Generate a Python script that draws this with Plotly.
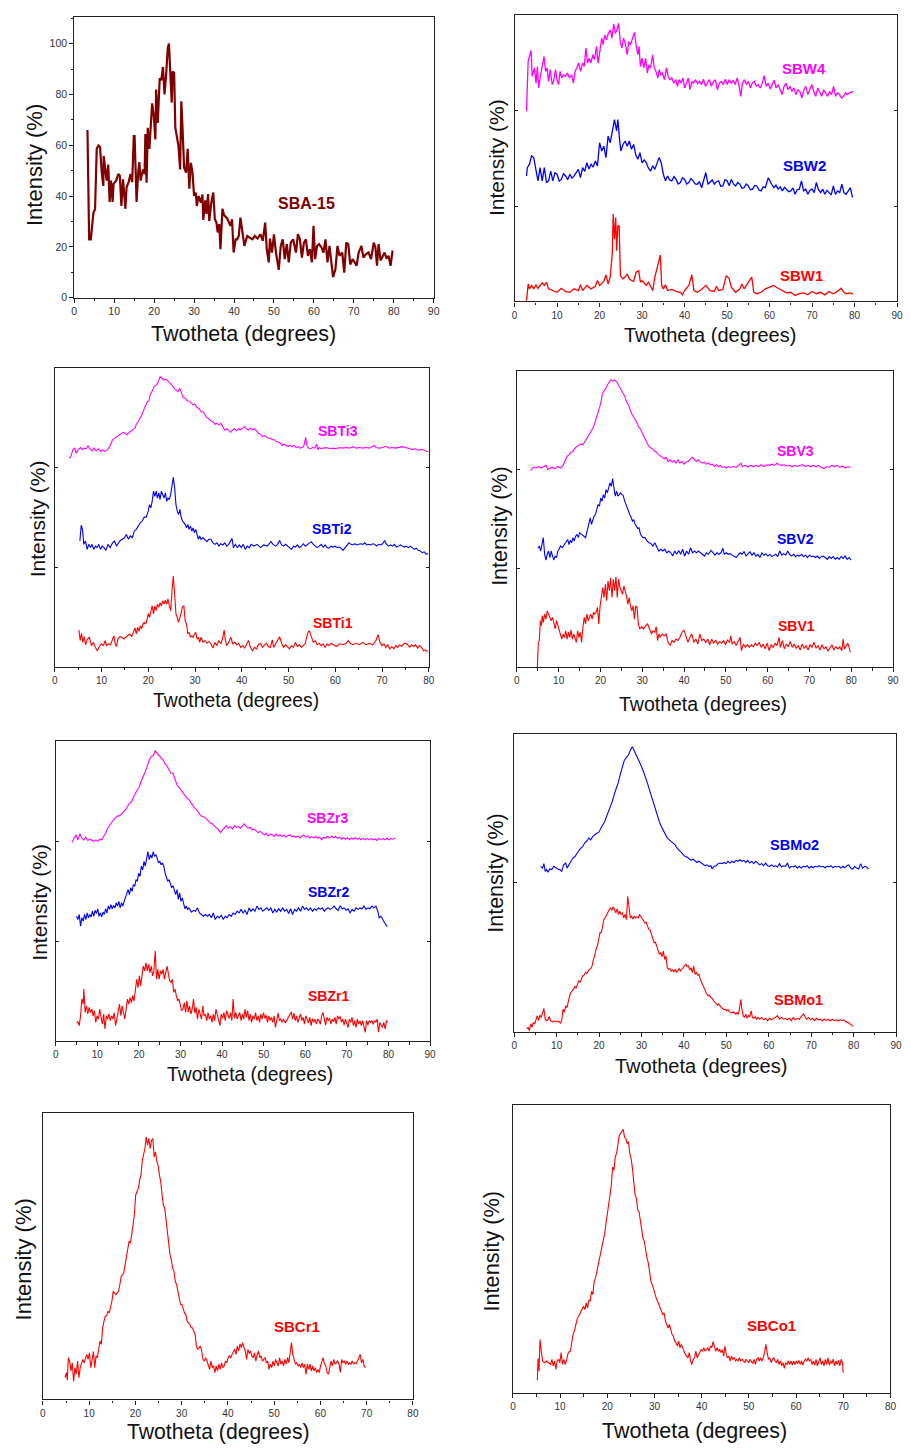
import plotly.graph_objects as go

# ---------------- data (2-theta in degrees, intensity) ----------------
SBA15 = [(3.3,66.0),(3.56,36),(3.72,23.0),(4.14,23.0),(4.8,33.5),(5.2,34.8),(5.62,58.6),(6.04,59.9),(6.45,59.3),(6.87,49.2),(7.28,44.0),(7.36,55.8),(7.86,50.5),(8.1,46.1),(8.5,52.4),(8.85,37.7),(9.18,46.1),(9.6,37.7),(9.84,44.9),(10.5,46.1),(11.0,48.7),(11.4,48.0),(11.8,36.1),(12.2,46.6),(12.8,35.0),(13.1,43.5),(13.6,45.5),(14.1,48.7),(14.5,45.5),(14.9,63.6),(15.1,63.6),(15.6,37.7),(16.0,49.5),(16.3,53.4),(16.6,46.1),(17.2,50.5),(17.6,48.7),(17.8,64.4),(18.1,45.3),(18.4,66.9),(18.8,58.6),(19.1,66.5),(19.5,76.5),(19.9,71.7),(20.3,62.3),(20.5,81.9),(20.9,68.8),(21.4,86.4),(21.8,85.6),(22.2,90.8),(22.6,80.0),(23.0,87.8),(23.4,98.2),(23.7,100),(24.1,87.8),(24.4,76.8),(24.6,89.0),(25.0,88.5),(25.3,66.9),(25.7,62.3),(26.1,59.6),(26.5,50.5),(26.8,77.3),(27.0,70.7),(27.5,51.2),(28.0,49.2),(28.4,58.6),(28.8,42.9),(29.2,53.1),(29.6,49.2),(30.0,40.1),(30.4,41.4),(30.7,36.1),(31.1,40.1),(31.4,38.1),(31.7,37.4),(32.1,40.6),(32.3,30.6),(32.8,38.3),(33.1,33.0),(33.5,40.8),(33.8,30.2),(34.3,37.4),(34.8,41.4),(35.2,30.9),(35.6,29.6),(35.9,25.7),(36.3,29.0),(36.6,19.1),(37.1,35.0),(37.5,32.5),(38.3,31.2),(39.1,28.3),(39.5,30.9),(39.9,17.8),(40.4,23.0),(40.8,23.0),(41.2,24.4),(41.6,31.5),(42.1,25.7),(42.6,20.4),(43.3,24.3),(43.9,23.7),(44.6,23.0),(45.2,24.3),(45.9,23.3),(46.6,25.0),(47.2,22.4),(47.8,29.6),(48.2,19.1),(48.7,13.9),(49.0,23.3),(49.5,17.8),(50.0,24.9),(50.5,17.8),(51.2,11.0),(51.7,20.4),(52.2,23.0),(52.7,15.2),(53.2,21.1),(53.7,13.9),(54.2,21.7),(54.8,23.0),(55.5,17.8),(56.0,25.0),(56.5,23.0),(57.0,15.8),(57.5,21.7),(58.0,23.0),(58.5,16.5),(59.0,19.1),(59.5,13.9),(59.9,28.3),(60.3,15.2),(60.8,20.4),(61.3,21.1),(61.9,19.8),(62.4,17.8),(62.9,23.0),(63.4,13.9),(63.9,20.4),(64.4,12.6),(64.8,8.1),(65.4,11.3),(65.9,20.4),(66.4,16.5),(67.1,17.8),(67.6,9.9),(68.1,21.7),(68.6,21.1),(69.1,13.1),(69.7,15.2),(70.2,13.9),(70.7,12.6),(71.2,17.8),(71.9,20.4),(72.4,15.8),(73.0,17.1),(73.7,17.8),(74.3,15.2),(75.0,21.7),(75.4,19.8),(75.8,12.6),(76.2,21.1),(76.7,14.7),(77.2,16.5),(77.7,17.8),(78.2,15.4),(78.7,16.5),(79.2,12.6),(79.7,18.6)]

SBW4 = [(2.8,66.4),(3.19,83.8),(3.89,87.6),(4.12,78.6),(4.66,81.5),(5.05,76.2),(5.36,82.0),(5.67,74.5),(6.06,78.6),(6.53,82.6),(6.92,85.5),(7.30,80.3),(7.61,81.5),(8.0,76.8),(8.39,80.9),(8.86,75.7),(9.17,76.8),(9.63,80.9),(9.95,77.4),(10.33,75.7),(10.72,80.3),(11.11,78.0),(11.5,79.1),(11.97,78.6),(12.43,79.7),(12.9,78.0),(13.44,79.1),(13.83,76.2),(14.22,80.3),(14.61,81.5),(15.07,83.2),(15.54,80.3),(16.0,83.2),(16.39,82.0),(16.78,88.4),(17.17,83.2),(17.56,84.9),(17.95,83.2),(18.41,86.1),(18.8,84.4),(19.27,89.0),(19.66,83.2),(20.05,86.7),(20.51,91.9),(20.82,89.6),(21.21,93.0),(21.6,91.3),(22.07,93.6),(22.53,94.8),(22.92,91.9),(23.31,96.9),(23.7,93.6),(24.09,94.8),(24.48,97.1),(24.86,90.7),(25.25,88.4),(25.64,91.9),(26.11,89.6),(26.5,86.1),(26.88,90.7),(27.27,89.6),(27.82,92.5),(28.2,93.9),(28.59,89.6),(28.98,86.1),(29.29,89.0),(29.6,82.0),(29.99,84.9),(30.38,81.5),(30.85,84.9),(31.24,79.7),(31.62,82.6),(32.01,81.5),(32.48,86.1),(32.87,81.5),(33.26,80.3),(33.72,78.0),(34.03,80.9),(34.42,79.1),(34.81,79.7),(35.28,77.4),(35.74,81.5),(36.13,78.6),(36.52,77.4),(36.99,78.0),(37.45,76.2),(37.92,77.4),(38.31,75.1),(38.69,77.4),(39.16,76.2),(39.63,78.0),(40.02,74.5),(40.48,76.2),(40.87,78.0),(41.26,73.9),(41.73,76.8),(42.11,76.2),(42.58,77.4),(43.05,76.0),(43.51,76.8),(43.98,75.7),(44.44,77.6),(44.91,75.1),(45.38,76.2),(45.84,77.4),(46.31,75.1),(46.78,76.8),(47.24,77.4),(47.71,73.9),(48.17,76.2),(48.64,76.8),(49.11,75.7),(49.57,77.6),(50.04,75.7),(50.5,77.4),(50.97,76.2),(51.44,77.2),(51.9,75.7),(52.37,78.0),(52.84,75.1),(53.22,71.6),(53.61,76.2),(54.08,77.4),(54.55,75.7),(55.01,76.8),(55.48,74.5),(55.94,76.2),(56.41,76.8),(56.88,75.1),(57.34,75.7),(57.81,74.5),(58.28,76.2),(58.74,78.8),(59.21,75.1),(59.67,76.2),(60.14,74.2),(60.61,75.7),(61.07,77.2),(61.54,74.5),(62.0,75.7),(62.47,73.9),(62.94,72.2),(63.4,75.1),(63.87,76.2),(64.34,73.9),(64.8,75.1),(65.27,73.3),(65.73,74.5),(66.2,72.2),(66.67,73.9),(67.13,73.3),(67.6,71.0),(68.07,73.9),(68.53,75.1),(69.0,72.2),(69.46,73.9),(69.93,75.7),(70.4,73.3),(70.86,71.6),(71.33,74.5),(71.8,72.8),(72.26,71.6),(72.73,73.9),(73.19,72.8),(73.66,71.6),(74.13,73.3),(74.59,72.2),(75.06,75.1),(75.52,71.6),(75.99,72.8),(76.46,72.2),(76.92,71.0),(77.39,71.6),(77.86,72.8),(78.32,72.2),(78.79,72.8),(79.25,73.0),(79.72,73.3)]

SBW2 = [(2.8,43.8),(3.0,46.7),(3.5,47.9),(4.0,50.8),(4.5,50.2),(5.0,45.5),(5.5,42.1),(6.0,46.7),(6.5,42.1),(7.0,46.7),(7.5,41.5),(8.0,42.1),(8.5,45.5),(9.0,42.1),(9.5,44.9),(10.0,44.4),(10.5,42.0),(11.0,42.6),(11.5,44.6),(12.0,43.8),(12.5,42.5),(13.0,44.4),(13.5,43.0),(14.0,43.8),(14.5,44.9),(15.0,46.1),(15.5,43.2),(16.0,46.7),(16.5,45.4),(17.0,48.4),(17.5,46.2),(18.0,47.9),(18.5,46.9),(19.0,49.0),(19.5,47.3),(20.0,55.4),(20.5,52.5),(21.0,54.2),(21.5,50.2),(22.0,57.7),(22.5,55.4),(23.0,58.9),(23.5,63.5),(24.0,59.5),(24.3,63.5),(24.7,56.5),(25.0,52.5),(25.5,54.8),(26.0,56.0),(26.5,54.2),(27.0,56.0),(27.5,53.1),(28.0,54.8),(28.5,51.3),(29.0,49.6),(29.5,51.9),(30.0,48.4),(30.5,49.4),(31.0,48.4),(31.5,46.5),(32.0,45.5),(32.5,47.4),(33.0,46.1),(34.0,50.2),(34.5,48.4),(35.0,44.4),(35.5,42.1),(36.0,43.8),(36.5,42.4),(37.0,42.1),(37.5,43.6),(38.0,42.6),(38.5,41.0),(39.0,41.5),(39.5,43.2),(40.0,42.6),(40.5,41.0),(41.0,41.5),(41.5,42.9),(42.0,42.1),(42.5,41.0),(43.0,40.9),(43.5,41.8),(44.0,39.7),(45.0,45.0),(45.5,40.9),(46.0,41.5),(46.5,42.4),(47.0,40.9),(47.5,41.8),(48.0,42.1),(48.5,40.2),(49.0,40.3),(49.5,42.5),(50.0,42.1),(50.5,40.4),(51.0,42.6),(51.5,41.0),(52.0,40.3),(52.5,41.5),(53.0,40.9),(53.5,39.5),(54.0,39.7),(54.5,41.0),(55.0,40.3),(55.5,39.0),(56.0,39.2),(56.5,40.5),(57.0,40.3),(57.5,38.9),(58.0,38.6),(58.5,40.0),(59.0,39.7),(59.7,43.2),(60.5,40.9),(61.0,39.7),(61.5,40.6),(62.0,39.2),(62.5,40.0),(63.0,38.6),(63.5,39.8),(64.0,39.2),(64.5,38.3),(65.0,38.6),(65.5,39.6),(66.0,37.4),(66.5,39.0),(67.0,39.2),(67.5,42.1),(68.0,38.6),(68.5,39.2),(69.0,37.4),(69.5,38.8),(70.0,39.2),(70.5,38.0),(71.0,41.5),(71.5,39.0),(72.0,38.0),(72.5,39.2),(73.0,37.4),(73.5,38.8),(74.0,38.0),(74.5,37.2),(75.0,40.3),(75.5,37.4),(76.0,38.6),(76.5,38.0),(77.0,40.9),(77.5,38.0),(78.0,37.4),(78.5,38.5),(79.0,39.7),(79.5,36.3)]

SBW1 = [(2.8,0.3),(3.2,6.1),(3.5,4.4),(4.0,5.6),(4.5,4.4),(5.0,5.8),(5.5,4.6),(6.0,5.8),(6.5,6.5),(7.0,5.6),(7.5,6.7),(8.0,4.4),(9.0,3.8),(10.0,3.2),(11.0,4.6),(12.0,3.5),(13.0,3.2),(14.0,4.4),(15.0,3.8),(15.5,5.8),(16.0,3.8),(17.0,5.6),(18.0,4.4),(19.0,5.3),(19.5,7.3),(20.0,5.6),(21.0,7.0),(21.5,9.3),(22.0,6.1),(22.5,8.5),(23.0,17.1),(23.2,30.5),(23.5,21.8),(23.8,29.3),(24.0,17.7),(24.3,26.4),(24.6,26.4),(24.9,9.0),(25.5,7.9),(26.0,8.5),(26.5,9.6),(27.0,7.9),(27.5,7.3),(28.0,7.0),(28.6,10.2),(29.2,10.8),(29.6,6.7),(30.0,7.3),(31.0,5.6),(31.5,6.7),(32.0,5.3),(32.5,3.8),(33.0,8.5),(33.5,11.4),(34.0,13.7),(34.3,16.2),(34.6,5.6),(35.0,4.4),(35.5,5.8),(36.0,3.8),(37.0,4.2),(38.0,3.5),(39.0,3.2),(39.5,2.3),(40.0,3.8),(41.0,5.6),(41.7,9.3),(42.2,3.8),(43.0,3.2),(44.0,4.2),(45.0,5.6),(46.0,3.8),(47.0,3.5),(47.5,5.3),(48.0,3.8),(49.0,4.2),(49.8,9.0),(50.5,7.9),(51.0,5.0),(52.0,3.2),(53.0,4.4),(53.5,6.1),(54.0,4.4),(55.0,6.7),(55.8,8.5),(56.3,3.2),(57.0,2.7),(58.0,3.2),(59.0,4.4),(60.0,5.0),(61.0,5.6),(62.0,4.6),(63.0,3.8),(64.0,3.0),(65.0,3.2),(66.0,2.1),(67.0,2.7),(68.0,3.0),(69.0,2.3),(70.0,3.5),(71.0,2.7),(72.0,3.2),(73.0,2.3),(74.0,3.5),(75.0,2.7),(76.0,3.5),(76.8,4.6),(77.5,3.2),(78.0,2.7),(79.0,3.0),(79.7,2.5)]

SBTI3 = [(3.04,69.8),(3.39,70.0),(3.88,72.6),(4.24,73.1),(4.59,71.4),(5.01,72.6),(5.51,73.3),(5.86,72.6),(6.21,73.1),(6.71,72.9),(7.13,74.0),(7.49,72.9),(7.98,72.2),(8.40,73.1),(8.83,72.2),(9.39,72.9),(9.82,72.0),(10.24,72.6),(10.66,72.0),(11.09,72.3),(11.51,73.1),(11.86,74.0),(12.36,75.9),(12.78,76.4),(13.28,77.0),(13.77,77.6),(14.19,78.1),(14.62,78.4),(15.04,78.1),(15.47,77.6),(15.89,78.4),(16.31,78.9),(16.74,79.6),(17.16,79.8),(17.44,81.1),(17.87,82.0),(18.29,83.3),(18.71,84.4),(19.14,86.4),(19.56,87.6),(19.84,88.7),(20.13,88.9),(20.41,90.9),(20.83,92.2),(21.26,93.7),(21.68,94.2),(22.1,95.1),(22.53,97.0),(22.95,96.4),(23.38,95.9),(23.8,96.2),(24.22,95.6),(24.65,95.1),(25.07,94.2),(25.49,93.3),(25.92,92.6),(26.34,92.0),(26.77,93.1),(27.05,92.0),(27.47,90.0),(27.9,89.8),(28.32,88.9),(28.74,88.9),(29.17,88.1),(29.59,87.6),(30.01,87.8),(30.44,86.7),(30.86,86.4),(31.29,85.3),(31.71,85.3),(32.13,84.2),(32.56,83.3),(32.98,82.9),(33.4,82.2),(33.83,82.0),(34.25,81.1),(34.68,81.4),(35.1,80.9),(35.52,81.4),(35.95,80.0),(36.37,79.2),(36.79,79.6),(37.22,78.9),(37.64,78.4),(38.07,79.2),(38.49,79.6),(38.91,78.9),(39.34,79.6),(39.76,79.2),(40.18,79.8),(40.61,80.3),(41.03,79.4),(41.45,79.2),(41.88,79.8),(42.3,79.2),(42.73,79.6),(43.15,78.7),(43.57,78.1),(44.0,77.8),(44.42,77.0),(44.84,77.3),(45.27,76.7),(45.69,76.4),(46.12,76.4),(46.54,75.9),(46.96,75.9),(47.39,75.3),(47.81,75.1),(48.23,74.8),(48.66,74.0),(49.08,74.4),(49.51,74.0),(49.93,73.7),(50.35,74.0),(50.78,73.6),(51.2,74.0),(51.62,73.3),(52.05,73.6),(52.47,73.1),(52.9,73.3),(53.32,74.0),(53.67,76.7),(53.95,74.0),(54.31,73.1),(54.73,72.9),(55.16,73.3),(55.58,73.1),(56.0,74.4),(56.29,72.6),(56.57,73.3),(56.99,72.9),(57.42,73.1),(58.12,73.3),(58.83,72.9),(59.53,73.1),(60.24,72.9),(60.95,73.3),(61.65,73.1),(62.36,73.3),(63.07,73.1),(63.77,73.6),(64.48,73.1),(65.18,73.3),(65.89,73.1),(66.6,73.3),(67.3,73.1),(68.01,73.7),(68.36,74.0),(68.71,73.3),(69.42,73.1),(70.13,73.3),(70.83,73.7),(71.54,73.1),(72.25,73.3),(72.95,73.1),(73.66,73.3),(74.36,73.6),(75.07,73.3),(75.78,72.9),(76.48,72.6),(77.19,72.9),(77.9,72.4),(78.6,72.7),(79.31,72.2),(79.87,71.8)]

SBTI2 = [(5.37,42.0),(5.65,47.3),(5.93,45.9),(6.21,40.9),(6.57,42.0),(6.92,39.2),(7.27,40.9),(7.63,39.8),(7.98,40.9),(8.33,39.2),(8.69,40.3),(9.04,39.8),(9.39,40.9),(9.75,39.2),(10.1,40.3),(10.52,39.8),(10.95,38.9),(11.37,40.9),(11.86,39.8),(12.36,41.4),(12.78,42.0),(13.21,40.3),(13.63,41.4),(14.05,42.2),(14.48,42.6),(14.9,43.1),(15.32,44.2),(15.75,42.6),(16.17,43.7),(16.6,43.1),(17.02,45.3),(17.44,45.9),(17.87,47.0),(18.29,48.1),(18.71,48.7),(19.14,50.0),(19.56,50.0),(19.99,52.0),(20.27,54.2),(20.55,53.1),(20.83,55.3),(21.12,58.7),(21.4,57.0),(21.68,58.7),(21.96,56.4),(22.25,58.1),(22.53,55.9),(22.81,58.7),(23.09,57.6),(23.38,56.4),(23.66,58.1),(23.94,55.3),(24.22,56.4),(24.51,55.9),(24.79,57.6),(25.07,60.9),(25.35,63.3),(25.64,59.8),(25.92,54.2),(26.2,52.0),(26.48,50.9),(26.77,52.6),(27.05,49.8),(27.33,48.7),(27.61,48.1),(27.9,47.6),(28.18,46.4),(28.46,47.6),(28.74,45.9),(29.03,47.0),(29.31,45.3),(29.59,46.4),(29.87,44.8),(30.16,45.9),(30.44,44.2),(30.72,42.6),(31.0,43.7),(31.29,42.6),(31.71,43.1),(32.13,42.6),(32.56,41.8),(32.98,42.6),(33.4,42.6),(33.83,41.4),(34.25,40.9),(34.68,41.4),(35.1,40.3),(35.52,41.1),(35.95,40.7),(36.37,41.4),(36.79,40.3),(37.22,40.9),(37.64,42.2),(37.92,42.9),(38.21,39.8),(38.63,40.9),(39.05,39.8),(39.48,40.7),(39.9,39.8),(40.32,40.9),(40.75,39.2),(41.17,40.3),(41.6,39.8),(42.02,40.9),(42.58,40.3),(43.29,40.9),(44.0,39.8),(44.7,40.7),(45.41,40.3),(45.83,40.9),(46.26,41.8),(46.68,40.9),(47.25,40.3),(47.67,40.9),(48.09,42.2),(48.52,40.7),(48.94,40.3),(49.36,40.9),(49.79,40.3),(50.21,39.8),(50.64,39.2),(51.06,40.3),(51.48,40.0),(51.91,40.7),(52.33,39.8),(52.75,40.3),(53.18,41.1),(53.6,40.3),(54.03,40.9),(54.45,41.4),(54.87,41.8),(55.3,40.9),(55.72,40.3),(56.14,39.8),(56.57,40.3),(56.99,40.9),(57.42,40.0),(57.84,40.7),(58.26,39.8),(58.69,39.6),(59.11,40.3),(59.53,40.0),(59.96,40.3),(60.38,39.8),(60.81,40.0),(61.23,39.6),(61.65,38.9),(62.08,39.8),(62.5,40.9),(62.92,41.4),(63.35,40.9),(63.77,40.7),(64.19,41.1),(64.62,40.7),(65.04,40.9),(65.47,41.1),(65.89,40.9),(66.31,41.4),(66.74,40.7),(67.16,40.9),(67.58,40.7),(68.01,41.1),(68.43,40.9),(68.86,40.3),(69.28,40.9),(69.7,40.7),(70.13,41.1),(70.55,42.2),(70.97,40.9),(71.4,40.3),(71.82,40.7),(72.25,40.3),(72.67,40.9),(73.09,40.0),(73.52,40.3),(73.94,40.7),(74.36,40.3),(74.79,40.0),(75.21,40.3),(75.64,39.8),(76.06,40.3),(76.48,39.8),(76.91,39.2),(77.33,39.6),(77.75,38.9),(78.18,38.7),(78.6,38.1),(79.03,38.4),(79.45,37.6),(79.87,37.8)]

SBTI1 = [(5.16,12.2),(5.44,8.7),(5.72,11.1),(6.0,8.1),(6.29,10.0),(6.57,7.3),(6.99,9.2),(7.42,9.8),(7.84,7.0),(8.26,8.1),(8.69,6.4),(9.11,5.3),(9.53,6.7),(9.96,7.6),(10.38,7.0),(10.8,8.7),(11.09,7.0),(11.51,7.6),(11.94,7.3),(12.36,8.9),(12.64,10.3),(12.92,7.6),(13.21,6.7),(13.49,9.2),(13.91,10.0),(14.34,9.8),(14.76,9.2),(15.18,9.8),(15.61,10.3),(16.03,10.9),(16.45,10.0),(16.88,12.0),(17.16,12.9),(17.44,10.9),(17.73,13.1),(18.01,11.8),(18.29,13.7),(18.57,12.6),(18.86,14.2),(19.14,14.8),(19.42,14.2),(19.7,15.3),(19.99,17.8),(20.27,16.4),(20.55,18.7),(20.83,20.3),(21.12,17.6),(21.4,20.3),(21.68,18.7),(21.96,20.9),(22.25,19.8),(22.53,21.4),(22.81,20.3),(23.09,22.0),(23.38,20.9),(23.66,22.2),(23.94,20.9),(24.22,22.6),(24.51,20.3),(24.79,18.7),(25.07,25.3),(25.35,30.3),(25.64,24.2),(25.92,17.6),(26.2,16.4),(26.48,14.8),(26.77,16.4),(27.05,18.7),(27.33,20.0),(27.61,20.3),(27.9,15.3),(28.18,14.2),(28.46,10.9),(28.74,11.4),(29.03,9.8),(29.31,10.3),(29.59,9.8),(29.87,10.9),(30.16,11.4),(30.44,9.2),(30.72,9.8),(31.0,8.1),(31.29,9.8),(31.71,8.1),(32.13,8.7),(32.56,7.8),(32.98,8.4),(33.4,7.6),(33.83,6.2),(34.25,8.1),(34.68,7.0),(35.1,8.7),(35.52,7.6),(35.95,9.8),(36.23,12.2),(36.51,8.7),(36.79,7.0),(37.22,8.1),(37.64,9.8),(38.07,7.6),(38.49,8.1),(38.91,7.3),(39.34,7.8),(39.76,6.4),(40.18,7.0),(40.61,6.2),(41.03,7.6),(41.45,8.7),(41.88,6.4),(42.3,5.3),(42.73,6.4),(43.15,5.9),(43.57,7.3),(44.0,7.8),(44.42,6.4),(44.84,7.0),(45.27,7.8),(45.69,6.7),(46.12,6.4),(46.54,8.9),(46.82,6.4),(47.25,7.6),(47.67,8.7),(48.09,10.0),(48.52,7.8),(48.94,6.4),(49.36,7.3),(49.79,6.7),(50.21,5.9),(50.64,7.0),(51.06,6.4),(51.48,8.1),(51.91,6.7),(52.33,7.3),(52.75,6.4),(53.18,7.0),(53.6,7.8),(53.88,9.8),(54.17,11.4),(54.45,12.0),(54.73,10.9),(55.01,9.2),(55.3,8.1),(55.72,8.7),(56.14,7.3),(56.57,7.8),(56.99,7.0),(57.42,7.6),(57.84,6.4),(58.26,7.6),(58.69,7.0),(59.11,7.8),(59.53,7.3),(60.24,6.7),(60.95,7.6),(61.65,7.3),(62.36,7.8),(62.78,8.7),(63.21,7.8),(63.77,7.3),(64.48,7.8),(65.18,7.3),(65.89,8.1),(66.6,7.3),(67.3,7.8),(68.01,7.3),(68.71,8.7),(69.14,10.7),(69.56,8.1),(69.99,7.0),(70.41,7.6),(70.83,6.4),(71.26,7.3),(71.68,5.9),(72.11,6.7),(72.53,5.9),(72.95,7.0),(73.38,6.4),(73.8,7.3),(74.22,6.7),(74.65,7.6),(75.07,7.8),(75.49,7.3),(75.92,6.4),(76.34,7.3),(76.77,6.7),(77.19,7.3),(77.61,6.2),(78.04,7.0),(78.46,6.4),(78.88,5.3),(79.31,5.6),(79.73,4.8)]

SBV3 = [(3.3,66.3),(3.95,67.4),(4.58,67.2),(5.21,67.7),(5.85,67.2),(6.48,67.7),(6.95,68.1),(7.42,66.6),(7.9,67.2),(8.53,67.4),(9.16,67.0),(9.79,67.7),(10.43,67.2),(11.06,68.1),(11.53,69.4),(12.01,71.1),(12.48,71.7),(12.95,72.5),(13.43,72.8),(13.9,73.9),(14.38,74.5),(14.85,74.8),(15.32,75.3),(15.8,75.0),(16.27,76.1),(16.75,77.3),(17.22,78.2),(17.69,79.3),(18.17,80.6),(18.64,82.3),(19.12,84.2),(19.59,86.8),(20.06,89.0),(20.38,91.8),(20.7,92.9),(21.17,93.8),(21.64,95.2),(22.12,96.1),(22.43,96.9),(22.91,96.5),(23.38,96.9),(23.85,96.3),(24.33,95.2),(24.8,94.1),(25.28,92.9),(25.75,91.6),(26.22,89.6),(26.7,88.5),(27.17,86.5),(27.65,84.9),(28.12,84.0),(28.59,82.9),(29.07,81.2),(29.54,80.4),(30.02,78.9),(30.49,77.5),(30.96,76.1),(31.44,74.8),(31.91,74.1),(32.39,73.7),(32.86,73.0),(33.33,72.6),(33.81,71.9),(34.28,71.4),(34.76,70.8),(35.23,70.3),(35.7,70.8),(36.18,69.4),(36.65,70.0),(37.13,69.2),(37.6,69.7),(38.07,68.9),(38.55,70.0),(39.02,68.9),(39.49,69.4),(39.97,68.5),(40.44,69.2),(40.92,69.4),(41.39,70.0),(42.02,70.8),(42.5,70.0),(42.97,69.4),(43.44,70.0),(43.92,69.2),(44.39,68.9),(44.87,69.2),(45.34,68.5),(45.81,68.9),(46.29,68.3),(46.76,68.5),(47.24,67.7),(47.71,68.3),(48.18,67.7),(48.66,68.1),(49.13,67.4),(49.61,67.7),(50.08,67.2),(50.55,67.7),(51.18,67.4),(51.82,67.7),(52.45,67.4),(53.08,68.1),(53.55,68.8),(54.03,67.7),(54.66,68.1),(55.29,67.6),(55.92,68.1),(56.56,67.6),(57.19,68.1),(57.82,67.7),(58.45,68.3),(59.08,67.7),(59.72,68.3),(60.35,68.1),(60.98,68.5),(61.61,68.1),(62.24,68.8),(62.72,68.3),(63.35,68.1),(63.98,68.3),(64.61,67.9),(65.24,68.1),(65.88,67.6),(66.51,68.1),(67.14,67.7),(67.77,68.1),(68.4,68.3),(69.04,67.7),(69.67,68.1),(70.3,67.6),(70.93,68.1),(71.56,67.6),(72.2,68.1),(72.83,67.4),(73.46,67.0),(74.09,67.7),(74.72,67.4),(75.36,68.1),(75.99,67.6),(76.62,68.1),(77.25,67.4),(77.88,67.9),(78.52,67.2),(79.15,67.6),(79.78,67.4)]

SBV2 = [(5.06,40.1),(5.37,40.9),(5.69,39.2),(6.0,42.0),(6.32,43.7),(6.64,38.1),(6.95,36.1),(7.27,38.1),(7.58,39.2),(7.9,37.0),(8.21,39.2),(8.53,37.5),(8.85,36.1),(9.16,37.5),(9.48,37.0),(9.79,39.2),(10.11,39.8),(10.43,40.9),(10.9,40.3),(11.37,41.4),(11.85,42.6),(12.16,43.1),(12.48,41.4),(12.8,42.8),(13.11,42.0),(13.43,43.7),(13.74,42.6),(14.06,44.2),(14.38,44.8),(14.69,43.7),(15.01,45.4),(15.48,44.8),(15.96,44.2),(16.43,43.7),(16.9,46.5),(17.22,48.7),(17.54,50.4),(17.85,48.2),(18.17,49.5),(18.48,51.0),(18.8,51.5),(19.12,53.8),(19.43,54.9),(19.75,54.3),(20.06,57.1),(20.38,56.0),(20.7,58.2),(21.01,57.1),(21.33,59.9),(21.64,58.8),(21.96,60.5),(22.27,62.2),(22.59,61.0),(22.91,63.6),(23.22,60.5),(23.54,57.7),(23.85,59.4),(24.17,57.7),(24.49,58.2),(24.8,58.8),(25.12,58.2),(25.43,58.0),(25.75,56.2),(26.07,54.9),(26.38,54.3),(26.7,52.9),(27.01,51.5),(27.33,50.6),(27.65,49.3),(27.96,49.8),(28.28,48.2),(28.59,47.6),(28.91,46.8),(29.23,47.0),(29.54,45.0),(29.86,44.2),(30.17,43.7),(30.65,43.7),(31.12,42.6),(31.6,42.0),(32.07,41.7),(32.54,40.9),(33.02,42.0),(33.49,40.5),(33.97,39.2),(34.44,39.8),(34.91,39.2),(35.39,39.8),(35.86,38.6),(36.33,39.2),(36.81,38.6),(37.28,37.5),(37.76,39.2),(38.23,38.1),(38.7,39.4),(39.18,38.1),(39.65,39.8),(40.13,37.5),(40.6,39.2),(41.07,38.1),(41.55,40.3),(42.02,38.6),(42.5,39.2),(42.97,38.6),(43.44,39.2),(43.92,38.6),(44.39,38.1),(44.87,37.5),(45.34,38.6),(45.81,38.1),(46.45,39.4),(46.92,38.6),(47.39,37.8),(47.87,38.6),(48.34,38.1),(48.82,38.6),(49.29,40.1),(49.61,38.1),(50.08,38.6),(50.55,38.1),(51.03,38.3),(51.5,37.8),(51.97,37.5),(52.45,37.0),(52.92,37.8),(53.4,38.6),(53.87,38.1),(54.34,39.0),(54.82,37.5),(55.29,38.3),(55.77,39.0),(56.24,37.8),(56.71,38.6),(57.19,37.5),(57.66,38.1),(58.14,37.0),(58.61,38.6),(59.08,37.8),(59.56,38.3),(60.03,37.5),(60.51,38.1),(60.98,37.3),(61.45,37.8),(61.93,38.1),(62.4,37.3),(62.88,39.2),(63.35,37.8),(63.82,38.3),(64.3,37.8),(64.77,39.2),(65.24,38.1),(65.72,37.5),(66.19,38.1),(66.67,37.3),(67.14,37.8),(67.61,37.5),(68.09,38.1),(68.56,37.3),(69.04,37.8),(69.51,37.0),(69.98,37.8),(70.46,37.3),(70.93,37.5),(71.41,37.0),(71.88,37.5),(72.35,36.7),(72.83,37.3),(73.3,37.5),(73.78,37.0),(74.25,36.4),(74.72,37.3),(75.2,36.7),(75.67,37.3),(76.15,36.4),(76.62,37.0),(77.09,36.4),(77.57,37.3),(78.04,36.7),(78.52,37.5),(78.99,36.4),(79.46,37.0),(79.94,36.1)]

SBV1 = [(4.9,0.0),(5.13,8.4),(5.37,9.0),(5.61,15.7),(5.85,14.0),(6.08,17.4),(6.32,15.1),(6.64,17.9),(6.95,16.2),(7.27,19.0),(7.58,17.9),(7.9,16.8),(8.21,15.7),(8.53,16.8),(8.85,14.6),(9.16,12.9),(9.48,15.7),(9.79,14.0),(10.11,12.3),(10.43,11.2),(10.74,9.5),(11.06,11.2),(11.37,10.1),(11.69,12.3),(12.01,9.5),(12.32,11.8),(12.64,10.1),(12.95,12.5),(13.27,9.5),(13.59,11.2),(13.9,10.1),(14.22,8.4),(14.53,12.3),(14.85,10.1),(15.17,11.8),(15.48,8.4),(15.8,13.4),(16.11,16.8),(16.43,14.6),(16.75,17.9),(17.06,15.7),(17.38,16.8),(17.69,17.9),(18.01,16.2),(18.33,18.5),(18.64,17.9),(18.96,18.5),(19.27,20.2),(19.59,14.6),(19.91,20.7),(20.22,23.5),(20.54,26.9),(20.85,23.5),(21.17,28.0),(21.49,22.4),(21.8,29.1),(22.12,25.8),(22.43,30.2),(22.75,23.5),(23.07,29.7),(23.38,25.8),(23.7,30.5),(24.01,23.5),(24.33,29.7),(24.64,26.9),(24.96,25.8),(25.28,24.6),(25.59,27.4),(25.91,25.8),(26.22,24.1),(26.54,21.3),(26.86,23.5),(27.17,20.7),(27.49,19.0),(27.8,20.7),(28.12,16.2),(28.44,20.7),(28.75,20.2),(29.07,14.6),(29.38,12.9),(29.86,13.7),(30.33,12.9),(30.81,14.0),(31.28,14.6),(31.75,12.9),(32.23,11.2),(32.54,12.3),(33.02,11.8),(33.33,13.7),(33.65,9.0),(33.97,11.2),(34.28,10.1),(34.76,11.2),(35.23,10.6),(35.7,11.2),(36.18,8.4),(36.65,7.3),(37.13,9.0),(37.6,8.4),(38.07,9.5),(38.55,9.0),(39.02,10.1),(39.49,11.8),(39.97,12.5),(40.44,10.6),(40.92,8.4),(41.39,10.1),(41.86,11.2),(42.34,8.4),(42.81,9.5),(43.29,7.8),(43.76,11.2),(44.23,9.0),(44.71,9.5),(45.18,8.4),(45.66,9.5),(46.13,7.6),(46.6,9.5),(47.08,8.1),(47.55,9.2),(48.03,7.8),(48.5,8.7),(48.97,8.1),(49.45,9.0),(49.92,7.6),(50.39,9.2),(50.87,8.4),(51.18,10.6),(51.5,7.8),(51.97,8.7),(52.45,7.3),(52.92,9.0),(53.4,10.1),(53.71,5.6),(54.19,7.8),(54.66,6.7),(55.13,7.6),(55.61,6.7),(56.08,7.6),(56.56,6.9),(57.03,8.1),(57.5,7.3),(57.98,8.4),(58.45,6.7),(58.93,7.8),(59.4,6.2),(59.87,8.1),(60.35,5.6),(60.82,7.6),(61.29,6.7),(61.77,8.1),(62.24,7.3),(62.72,10.1),(63.03,6.7),(63.51,9.0),(63.98,6.2),(64.45,7.8),(64.93,6.9),(65.4,8.7),(65.88,6.7),(66.35,7.8),(66.82,6.4),(67.3,7.3),(67.77,5.8),(68.25,7.8),(68.72,6.4),(69.19,7.3),(69.67,5.8),(70.14,7.6),(70.62,6.7),(71.09,8.4),(71.56,6.4),(72.04,7.3),(72.51,5.8),(72.99,7.6),(73.46,6.2),(73.93,6.9),(74.41,5.4),(74.88,6.7),(75.36,7.6),(75.83,5.8),(76.3,6.9),(76.78,6.2),(77.25,6.9),(77.73,5.6),(78.04,9.5),(78.36,6.2),(78.83,7.6),(79.15,8.1),(79.46,6.7),(79.78,5.0)]

SBZR3 = [(3.89,66.2),(4.37,67.7),(4.85,68.8),(5.32,67.1),(5.8,69.1),(6.27,67.7),(6.75,67.1),(7.23,68.0),(7.7,66.9),(8.18,67.3),(8.66,66.9),(9.13,66.6),(9.61,67.1),(10.09,66.6),(10.56,67.3),(11.04,67.1),(11.52,68.2),(11.99,69.3),(12.47,71.0),(12.95,72.1),(13.42,72.9),(13.9,73.8),(14.38,74.6),(14.85,75.1),(15.33,75.1),(15.81,75.7),(16.28,76.5),(16.76,77.1),(17.24,78.2),(17.71,79.3),(18.19,79.8),(18.67,81.0),(19.14,82.6),(19.62,83.9),(20.1,84.8),(20.57,86.8),(21.05,88.1),(21.52,89.8),(22.0,91.7),(22.48,93.7),(22.95,94.8),(23.43,95.3),(23.91,96.8),(24.38,96.1),(24.86,95.3),(25.34,94.6),(25.81,93.7),(26.29,92.4),(26.77,91.7),(27.24,90.4),(27.72,89.3),(28.2,89.3),(28.67,87.3),(29.15,85.4),(29.63,84.6),(30.1,83.7),(30.58,82.8),(31.06,82.1),(31.53,81.0),(32.01,80.6),(32.49,79.5),(32.96,78.7),(33.44,77.6),(33.92,77.1),(34.39,76.0),(34.87,75.1),(35.35,74.9),(35.82,74.6),(36.3,74.0),(36.78,73.2),(37.25,72.6),(37.73,72.4),(38.2,71.5),(38.68,71.0),(39.16,70.4),(39.63,69.5),(40.11,70.4),(40.59,71.0),(41.06,71.8),(41.54,71.0),(42.02,71.5),(42.49,70.7),(42.97,71.8),(43.45,71.3),(43.92,71.5),(44.4,71.0),(44.88,71.8),(45.35,72.4),(45.83,71.5),(46.31,71.0),(46.78,71.3),(47.26,70.4),(47.74,70.7),(48.21,70.2),(48.69,69.5),(49.17,69.9),(49.64,69.5),(50.12,68.8),(50.6,69.3),(51.07,68.4),(51.55,69.1),(52.03,68.8),(52.5,68.2),(52.98,69.1),(53.46,68.4),(53.93,68.8),(54.41,68.2),(54.89,68.7),(55.36,68.0),(55.84,68.4),(56.31,68.8),(56.79,68.2),(57.27,68.4),(57.74,68.0),(58.22,68.4),(58.7,67.7),(59.17,68.2),(59.65,68.7),(60.13,68.0),(60.6,68.4),(61.08,67.7),(61.56,68.2),(62.03,67.8),(62.51,68.2),(62.99,67.6),(63.46,68.0),(63.94,67.1),(64.42,68.0),(64.89,67.7),(65.37,68.2),(65.85,67.7),(66.32,68.4),(66.8,67.8),(67.28,68.2),(67.75,67.6),(68.23,68.0),(68.71,67.3),(69.18,67.8),(69.66,67.3),(70.14,67.8),(70.61,67.1),(71.09,67.7),(71.57,67.3),(72.04,67.8),(72.52,67.3),(73.0,67.7),(73.47,67.1),(73.95,67.6),(74.42,67.1),(74.9,67.6),(75.38,67.1),(75.85,67.6),(76.33,67.1),(76.81,67.4),(77.28,66.9),(77.76,67.6),(78.24,67.1),(78.71,67.6),(79.19,67.1),(79.67,67.7),(80.14,67.1),(80.62,67.6),(81.1,67.3),(81.73,67.7)]

SBZR2 = [(5.0,41.6),(5.32,40.5),(5.64,42.2),(5.96,38.3),(6.27,41.1),(6.59,40.0),(6.91,42.2),(7.23,40.5),(7.55,42.7),(7.86,41.1),(8.18,42.2),(8.5,41.4),(8.82,43.3),(9.13,41.6),(9.45,43.6),(9.77,42.5),(10.09,44.1),(10.41,41.6),(10.72,42.7),(11.04,41.4),(11.36,43.0),(11.68,42.2),(11.99,44.1),(12.31,42.7),(12.63,45.0),(12.95,43.9),(13.26,45.5),(13.58,44.1),(13.9,45.2),(14.22,44.4),(14.54,46.1),(14.85,45.0),(15.17,46.6),(15.49,44.4),(15.81,46.1),(16.12,45.0),(16.44,46.6),(16.76,47.7),(17.08,48.8),(17.4,50.5),(17.71,48.8),(18.03,51.1),(18.35,49.9),(18.67,52.2),(18.98,51.6),(19.3,53.8),(19.62,53.3),(19.94,56.0),(20.25,54.9),(20.57,58.3),(20.89,57.1),(21.21,59.9),(21.52,58.3),(21.84,61.6),(22.16,63.2),(22.48,60.5),(22.79,62.1),(23.11,61.0),(23.43,63.2),(23.75,61.6),(24.07,62.1),(24.38,61.0),(24.7,59.4),(25.02,59.9),(25.34,58.8),(25.65,59.4),(25.97,58.3),(26.29,56.0),(26.61,54.4),(26.93,53.3),(27.24,53.8),(27.56,52.2),(27.88,51.1),(28.2,51.8),(28.51,50.3),(28.83,48.8),(29.15,50.5),(29.47,47.2),(29.78,49.4),(30.1,46.6),(30.42,47.7),(30.74,45.5),(31.06,44.1),(31.37,45.0),(31.69,43.9),(32.01,44.4),(32.33,43.6),(32.65,43.0),(33.12,43.6),(33.6,43.3),(34.07,44.4),(34.55,42.7),(35.03,42.2),(35.5,41.6),(35.98,42.2),(36.46,41.6),(36.93,42.2),(37.41,41.1),(37.89,42.7),(38.36,40.5),(38.84,41.6),(39.32,41.1),(39.79,41.9),(40.27,40.5),(40.75,41.6),(41.22,41.1),(41.7,42.2),(42.18,41.6),(42.65,42.7),(43.13,42.2),(43.61,43.3),(44.08,42.7),(44.56,43.9),(45.04,42.7),(45.51,43.6),(45.99,42.2),(46.47,44.4),(46.94,43.3),(47.42,44.1),(47.9,43.3),(48.37,45.0),(48.85,43.9),(49.32,44.4),(49.8,43.3),(50.28,43.9),(50.75,44.4),(51.23,43.6),(51.71,44.4),(52.18,42.7),(52.66,43.9),(53.14,43.0),(53.61,44.1),(54.09,43.3),(54.57,44.4),(55.04,43.3),(55.52,43.9),(56.0,42.5),(56.47,44.1),(56.95,42.2),(57.43,43.9),(57.9,43.3),(58.38,44.4),(58.86,43.3),(59.33,45.0),(59.81,43.9),(60.29,44.4),(60.76,43.6),(61.24,44.4),(61.72,43.3),(62.19,44.1),(62.67,43.6),(63.15,44.4),(63.62,43.9),(64.1,44.4),(64.58,43.3),(65.05,44.1),(65.53,44.4),(66.01,43.9),(66.48,44.4),(66.96,45.0),(67.44,44.1),(67.91,43.6),(68.39,45.1),(68.87,44.1),(69.34,44.4),(69.82,43.6),(70.29,44.1),(70.77,42.7),(71.25,43.9),(71.72,43.3),(72.2,44.4),(72.68,43.9),(73.15,44.4),(73.63,44.1),(74.11,45.0),(74.58,43.9),(75.06,44.4),(75.54,44.1),(76.01,45.0),(76.49,44.4),(76.97,45.0),(77.44,43.3),(77.76,41.1),(78.24,41.6),(78.71,40.3),(79.19,39.4),(79.67,38.1)]

SBZR1 = [(5.0,6.2),(5.32,6.4),(5.64,5.1),(5.96,8.4),(6.27,14.0),(6.59,12.3),(6.75,17.3),(7.07,9.5),(7.39,11.7),(7.7,9.0),(8.02,11.2),(8.34,9.5),(8.66,10.6),(8.98,8.4),(9.29,10.1),(9.61,6.2),(9.93,8.4),(10.25,7.3),(10.56,10.6),(10.88,8.4),(11.2,5.6),(11.52,9.0),(11.83,4.0),(12.15,8.4),(12.47,7.3),(12.79,9.0),(13.11,6.8),(13.42,8.4),(13.74,7.3),(14.06,9.5),(14.38,5.1),(14.69,7.3),(15.01,9.5),(15.33,12.3),(15.65,8.4),(15.97,11.7),(16.28,9.5),(16.6,7.3),(16.92,10.6),(17.24,14.0),(17.55,12.3),(17.87,14.5),(18.19,12.8),(18.51,15.1),(18.82,13.4),(19.14,16.2),(19.46,20.6),(19.78,17.8),(20.1,21.7),(20.41,18.4),(20.73,22.8),(21.05,25.0),(21.37,23.4),(21.68,26.1),(22.0,23.4),(22.32,25.6),(22.64,22.8),(22.95,25.0),(23.27,21.7),(23.59,23.4),(23.91,30.0),(24.23,20.6),(24.54,23.9),(24.86,20.6),(25.18,23.4),(25.5,22.3),(25.81,23.9),(26.13,20.6),(26.45,22.8),(26.77,25.0),(27.09,22.3),(27.4,20.0),(27.72,19.5),(28.04,20.6),(28.36,16.2),(28.67,17.3),(28.99,15.1),(29.31,13.4),(29.63,14.0),(29.94,11.7),(30.26,10.1),(30.58,10.6),(30.9,12.8),(31.22,9.5),(31.53,13.4),(31.85,9.7),(32.17,11.7),(32.49,9.0),(32.8,10.6),(33.12,14.0),(33.44,9.3),(33.76,11.2),(34.07,7.3),(34.39,10.6),(34.71,8.4),(35.03,7.3),(35.35,11.7),(35.66,8.4),(35.98,9.0),(36.3,6.8),(36.62,9.5),(36.93,7.3),(37.25,8.4),(37.57,6.2),(37.89,9.0),(38.2,6.8),(38.52,10.6),(38.84,8.4),(39.16,6.2),(39.48,5.1),(39.79,9.0),(40.11,7.5),(40.43,9.5),(40.75,6.8),(41.06,10.1),(41.38,8.4),(41.7,7.5),(42.02,9.5),(42.34,6.8),(42.65,14.0),(42.97,7.5),(43.29,9.5),(43.61,7.3),(43.92,8.4),(44.24,9.5),(44.56,6.8),(44.88,9.0),(45.19,7.3),(45.51,10.6),(45.83,7.9),(46.15,10.1),(46.47,6.8),(46.78,9.0),(47.1,6.2),(47.42,8.4),(47.74,7.3),(48.05,9.5),(48.37,6.8),(48.69,8.4),(49.01,6.2),(49.32,9.0),(49.64,7.3),(49.96,9.5),(50.28,7.5),(50.6,8.6),(50.91,6.2),(51.23,8.4),(51.55,6.8),(51.87,7.9),(52.18,6.2),(52.5,8.4),(52.82,4.5),(53.14,7.5),(53.46,9.3),(53.77,6.8),(54.09,7.3),(54.41,6.2),(54.73,7.3),(55.2,6.0),(55.68,7.3),(56.16,8.6),(56.63,9.7),(56.95,7.3),(57.27,9.3),(57.59,6.8),(57.9,8.4),(58.22,6.2),(58.54,7.9),(58.86,9.0),(59.17,6.8),(59.49,7.9),(59.81,5.6),(60.13,8.4),(60.45,7.3),(60.76,6.0),(61.08,7.9),(61.4,5.1),(61.72,7.5),(62.03,6.2),(62.35,7.3),(62.67,5.6),(62.99,7.3),(63.3,6.8),(63.62,5.6),(63.94,8.4),(64.26,9.5),(64.58,6.8),(64.89,5.3),(65.21,7.9),(65.53,6.8),(65.85,7.5),(66.16,5.6),(66.48,7.3),(66.8,6.4),(67.12,7.9),(67.44,5.6),(67.75,8.4),(68.07,7.3),(68.39,8.2),(68.71,6.2),(69.02,7.3),(69.34,5.3),(69.66,7.3),(69.98,5.6),(70.29,4.5),(70.61,7.3),(70.93,6.2),(71.25,7.9),(71.57,5.1),(71.88,6.8),(72.2,4.5),(72.52,7.3),(72.84,5.6),(73.15,6.8),(73.47,5.1),(73.79,6.8),(74.11,4.5),(74.42,2.9),(74.74,6.8),(75.06,5.3),(75.38,6.8),(75.7,6.2),(76.01,6.8),(76.33,5.6),(76.65,6.8),(76.97,6.2),(77.28,7.3),(77.6,2.9),(77.92,6.2),(78.24,5.1),(78.55,4.5),(78.87,6.2),(79.19,4.0),(79.51,6.8),(79.83,6.2)]

SBMO2 = [(6.22,55.6),(6.69,55.0),(7.0,56.5),(7.31,53.9),(7.62,54.5),(7.93,53.6),(8.4,54.7),(8.86,54.5),(9.33,55.6),(9.8,55.0),(10.26,54.7),(10.73,54.5),(11.2,53.9),(11.66,56.1),(12.13,56.7),(12.44,55.0),(12.91,56.1),(13.37,57.3),(13.84,58.4),(14.31,58.9),(14.77,60.0),(15.24,60.9),(15.71,61.7),(16.17,62.3),(16.64,63.6),(17.11,64.0),(17.57,65.1),(18.04,64.5),(18.51,65.6),(18.97,66.2),(19.44,66.7),(19.91,67.0),(20.37,68.4),(20.84,69.5),(21.31,70.6),(21.77,72.3),(22.24,74.6),(22.71,75.7),(23.17,77.7),(23.64,80.1),(24.11,82.1),(24.57,84.0),(25.04,86.8),(25.51,89.3),(25.97,91.3),(26.44,92.2),(26.91,93.0),(27.37,94.6),(27.84,95.8),(28.15,94.9),(28.62,93.5),(29.08,92.2),(29.55,90.4),(30.02,89.1),(30.48,87.4),(30.95,85.7),(31.42,83.5),(31.88,81.3),(32.35,79.0),(32.81,76.8),(33.28,74.3),(33.75,72.3),(34.21,70.6),(34.68,69.0),(35.15,67.6),(35.61,66.2),(36.08,65.1),(36.55,64.5),(37.01,64.0),(37.48,63.6),(37.95,62.8),(38.41,61.7),(38.88,60.9),(39.35,60.3),(39.81,59.5),(40.28,58.9),(40.75,58.7),(41.21,58.0),(41.68,57.6),(42.15,58.0),(42.61,57.3),(43.08,56.9),(43.55,57.3),(44.01,56.7),(44.48,56.1),(44.95,55.8),(45.41,56.1),(45.88,55.6),(46.35,55.8),(46.66,54.7),(47.12,55.6),(47.59,55.8),(48.06,56.5),(48.52,56.7),(48.99,56.5),(49.46,56.9),(49.92,56.5),(50.39,57.3),(50.86,56.7),(51.32,57.3),(51.79,56.9),(52.26,57.6),(52.72,57.3),(53.19,57.8),(53.65,57.3),(54.12,57.6),(54.59,56.9),(55.05,57.6),(55.52,56.7),(55.99,57.3),(56.45,56.5),(56.92,57.3),(57.39,56.7),(57.85,56.1),(58.32,56.5),(58.79,55.8),(59.25,56.7),(59.72,55.8),(60.19,55.6),(60.65,56.1),(61.12,55.6),(61.59,55.8),(62.05,55.4),(62.52,56.5),(62.99,55.4),(63.45,55.8),(63.92,55.6),(64.39,56.7),(64.85,55.0),(65.32,55.6),(65.79,55.4),(66.25,55.8),(66.72,55.0),(67.19,55.6),(67.65,55.0),(68.12,55.6),(68.58,55.4),(69.05,55.8),(69.52,55.0),(69.98,55.6),(70.45,55.1),(70.92,55.6),(71.38,55.4),(71.85,55.8),(72.32,55.4),(72.78,55.6),(73.25,55.1),(73.72,55.6),(74.18,55.4),(74.65,55.8),(75.12,55.1),(75.58,55.6),(76.05,55.4),(76.52,55.6),(76.98,55.0),(77.45,55.6),(77.92,55.1),(78.38,55.8),(78.85,56.1),(79.32,55.0),(79.78,54.7),(80.25,55.6),(80.72,55.0),(81.18,54.7),(81.65,56.5),(82.11,55.0),(82.58,55.6),(83.05,55.4),(83.51,54.7)]

SBMO1 = [(2.95,0.9),(3.27,1.5),(3.58,0.3),(3.89,2.6),(4.2,1.5),(4.51,3.1),(4.82,2.6),(5.13,4.2),(5.44,5.4),(5.75,3.7),(6.07,5.6),(6.38,4.8),(6.69,6.5),(7.0,7.8),(7.31,4.2),(7.62,3.7),(7.93,4.0),(8.24,5.1),(8.55,3.7),(9.02,3.3),(9.49,3.6),(9.95,3.3),(10.42,3.6),(10.89,2.9),(11.2,3.7),(11.51,7.6),(11.82,6.5),(12.13,8.7),(12.44,8.1),(12.75,10.9),(13.06,12.1),(13.37,13.2),(13.69,13.7),(14.0,14.3),(14.31,15.2),(14.62,14.8),(14.93,16.0),(15.24,17.1),(15.55,16.7),(15.86,18.2),(16.17,18.8),(16.49,19.0),(16.8,19.9),(17.11,19.6),(17.42,20.4),(17.73,21.0),(18.04,21.2),(18.35,22.1),(18.66,24.3),(18.97,25.4),(19.28,27.7),(19.6,28.8),(19.91,31.0),(20.22,33.3),(20.53,33.3),(20.84,35.5),(21.15,37.9),(21.46,38.3),(21.77,39.4),(22.08,40.0),(22.4,41.1),(22.71,41.6),(23.02,40.8),(23.33,42.0),(23.64,41.1),(23.95,40.0),(24.26,41.3),(24.57,39.4),(24.88,40.5),(25.19,39.4),(25.51,40.0),(25.82,38.3),(26.13,39.4),(26.44,37.7),(26.75,45.5),(27.06,41.6),(27.37,38.3),(27.68,38.8),(27.99,37.9),(28.3,38.8),(28.62,38.3),(28.93,38.6),(29.24,38.3),(29.55,39.4),(29.86,38.6),(30.17,37.7),(30.48,37.2),(30.79,36.6),(31.1,36.8),(31.42,35.5),(31.73,34.4),(32.04,34.2),(32.35,32.7),(32.66,31.6),(32.97,29.9),(33.28,30.1),(33.59,28.8),(33.9,27.7),(34.21,26.0),(34.53,26.6),(34.84,25.2),(35.15,27.1),(35.46,24.3),(35.77,25.4),(36.08,21.5),(36.39,21.0),(36.7,21.2),(37.01,20.4),(37.33,20.8),(37.64,20.1),(37.95,21.0),(38.26,19.9),(38.57,20.4),(38.88,21.2),(39.19,20.4),(39.5,21.0),(39.81,21.5),(40.12,22.3),(40.44,22.7),(40.75,21.9),(41.06,22.1),(41.37,20.8),(41.68,21.5),(41.99,19.9),(42.3,22.1),(42.61,19.3),(42.92,19.9),(43.23,19.0),(43.55,19.3),(43.86,17.6),(44.17,16.5),(44.48,16.0),(44.79,14.8),(45.1,13.2),(45.41,12.6),(45.72,12.1),(46.03,12.3),(46.35,11.5),(46.66,11.2),(46.97,10.4),(47.28,9.8),(47.59,9.3),(47.9,8.9),(48.21,9.3),(48.52,8.5),(48.83,8.1),(49.14,7.8),(49.46,7.4),(49.77,7.6),(50.08,7.0),(50.39,7.4),(50.7,6.7),(51.01,6.5),(51.32,6.3),(51.63,6.7),(51.94,6.3),(52.26,5.9),(52.57,6.5),(52.88,5.9),(53.19,8.7),(53.42,10.9),(53.65,7.6),(53.97,5.4),(54.28,4.8),(54.59,5.9),(54.9,4.5),(55.21,5.4),(55.52,5.1),(55.83,7.0),(56.14,4.8),(56.45,4.5),(56.77,5.1),(57.08,4.2),(57.39,4.8),(57.85,4.2),(58.32,4.8),(58.79,4.0),(59.25,4.5),(59.72,3.7),(60.19,4.5),(60.65,4.0),(61.12,4.5),(61.59,4.8),(62.05,5.4),(62.52,4.2),(62.99,4.8),(63.45,4.2),(63.92,4.5),(64.39,4.0),(64.85,4.5),(65.32,3.7),(65.79,4.8),(66.25,4.0),(66.72,4.5),(67.19,4.2),(67.65,5.1),(68.12,5.9),(68.43,5.4),(68.89,4.2),(69.36,4.8),(69.83,4.0),(70.29,4.5),(70.76,3.7),(71.23,4.5),(71.69,4.0),(72.16,4.2),(72.63,3.7),(73.09,4.2),(73.56,3.8),(74.03,4.2),(74.49,3.7),(74.96,4.2),(75.43,3.7),(75.89,4.0),(76.36,3.6),(76.83,4.0),(77.29,3.7),(77.76,4.0),(78.23,3.3),(78.69,3.1),(79.16,2.6),(79.63,2.2),(79.94,1.8)]

SBCR1 = [(4.78,7.6),(5.07,9.4),(5.28,6.7),(5.5,14.6),(5.78,13.4),(6.07,10.0),(6.35,12.8),(6.64,6.3),(6.92,11.1),(7.21,8.8),(7.5,13.4),(7.78,7.6),(8.07,11.1),(8.35,12.3),(8.64,14.0),(8.92,12.8),(9.21,14.6),(9.49,15.7),(9.78,14.0),(10.06,16.3),(10.35,11.1),(10.64,14.6),(10.92,16.7),(11.21,11.1),(11.49,15.2),(11.78,14.6),(12.06,16.9),(12.35,20.4),(12.63,19.2),(12.92,25.0),(13.21,27.3),(13.49,29.1),(13.78,29.1),(14.06,30.8),(14.35,30.2),(14.63,31.9),(14.92,34.3),(15.2,37.7),(15.49,37.2),(15.78,36.6),(16.06,37.2),(16.35,37.7),(16.63,40.0),(16.92,42.9),(17.2,43.5),(17.49,44.1),(17.77,47.0),(18.06,49.3),(18.35,52.8),(18.63,55.1),(18.92,54.5),(19.2,58.6),(19.49,60.9),(19.77,64.4),(20.06,71.3),(20.34,72.5),(20.63,73.6),(20.91,76.5),(21.2,78.2),(21.49,83.4),(21.77,85.2),(22.06,87.5),(22.34,91.6),(22.63,88.7),(22.91,91.0),(23.2,87.5),(23.48,90.3),(23.77,91.0),(24.06,84.6),(24.34,86.3),(24.63,82.9),(24.91,81.7),(25.2,78.2),(25.48,75.9),(25.77,71.3),(26.05,67.8),(26.34,66.7),(26.63,62.0),(26.91,57.4),(27.2,55.1),(27.48,50.5),(27.77,48.7),(28.05,45.8),(28.34,44.7),(28.62,41.2),(28.91,40.0),(29.19,37.7),(29.48,34.8),(29.76,33.1),(30.05,33.1),(30.34,31.4),(30.62,30.2),(30.91,29.6),(31.19,27.3),(31.48,26.7),(31.76,26.2),(32.05,25.0),(32.33,25.0),(32.62,23.8),(32.91,22.7),(33.19,18.6),(33.48,17.5),(33.76,18.1),(34.05,18.6),(34.33,16.9),(34.62,14.0),(34.9,13.4),(35.19,14.6),(35.48,13.4),(35.76,12.3),(36.05,10.5),(36.33,13.4),(36.62,11.1),(36.9,11.7),(37.19,9.4),(37.47,11.7),(37.76,10.0),(38.05,12.3),(38.33,10.5),(38.62,12.8),(38.9,11.1),(39.19,11.7),(39.47,13.4),(39.76,12.8),(40.04,14.6),(40.33,15.2),(40.62,14.6),(40.9,15.7),(41.19,16.9),(41.47,17.5),(41.76,15.7),(42.04,18.6),(42.33,16.9),(42.61,19.4),(42.9,18.1),(43.19,19.8),(43.47,18.1),(43.76,16.9),(44.04,14.0),(44.33,17.5),(44.61,16.0),(44.9,16.9),(45.18,15.2),(45.47,14.6),(45.75,16.3),(46.04,13.4),(46.32,15.7),(46.61,16.9),(46.9,14.6),(47.18,15.2),(47.47,13.4),(47.75,14.0),(48.04,14.6),(48.32,12.8),(48.61,13.4),(48.89,10.5),(49.18,12.3),(49.47,11.1),(49.75,13.4),(50.04,11.7),(50.32,14.0),(50.61,12.8),(50.89,11.7),(51.18,14.6),(51.46,12.3),(51.75,13.4),(52.03,11.7),(52.32,14.0),(52.61,12.3),(52.89,14.6),(53.18,12.8),(53.46,16.3),(53.75,19.8),(54.03,15.7),(54.32,13.4),(54.6,12.3),(54.89,12.8),(55.18,11.7),(55.46,12.3),(55.75,11.1),(56.03,12.8),(56.32,11.1),(56.6,12.3),(56.89,8.8),(57.17,12.3),(57.46,10.5),(57.75,12.3),(58.03,10.0),(58.32,11.7),(58.6,10.0),(58.89,11.1),(59.17,9.4),(59.46,10.5),(59.74,9.4),(60.03,11.7),(60.32,13.4),(60.6,14.6),(60.89,12.3),(61.17,11.7),(61.46,9.4),(61.74,8.8),(62.03,11.1),(62.31,13.4),(62.6,11.7),(62.88,14.0),(63.17,12.3),(63.46,12.8),(63.74,13.4),(64.03,12.3),(64.31,9.4),(64.6,14.0),(64.88,12.8),(65.17,13.4),(65.45,12.3),(65.74,13.4),(66.03,12.3),(66.31,12.8),(66.6,12.3),(66.88,13.4),(67.17,12.5),(67.45,12.8),(67.74,12.5),(68.02,13.4),(68.31,14.6),(68.6,15.7),(68.88,12.8),(69.17,14.0),(69.45,11.7),(69.74,11.1)]

SBCO1 = [(5.18,4.4),(5.32,12.0),(5.53,7.6),(5.74,18.6),(6.02,14.5),(6.3,11.1),(6.72,10.5),(7.14,11.1),(7.56,10.5),(7.98,9.9),(8.26,11.7),(8.54,9.4),(8.82,11.1),(9.1,8.2),(9.38,11.1),(9.66,11.7),(9.94,10.5),(10.22,14.0),(10.5,9.9),(10.78,11.7),(11.06,9.9),(11.34,11.1),(11.62,13.4),(11.9,14.3),(12.18,14.5),(12.46,18.0),(12.74,20.3),(13.02,21.5),(13.3,23.8),(13.58,25.5),(13.86,26.7),(14.14,27.3),(14.42,28.4),(14.7,29.6),(14.98,30.1),(15.26,29.0),(15.54,31.3),(15.82,29.6),(16.1,32.4),(16.38,31.9),(16.66,35.3),(16.94,34.2),(17.22,38.8),(17.5,40.0),(17.78,42.3),(18.05,44.0),(18.33,45.7),(18.61,48.0),(18.89,50.3),(19.17,53.8),(19.45,55.5),(19.73,59.0),(20.01,63.0),(20.29,65.9),(20.57,68.8),(20.85,72.3),(21.13,78.6),(21.41,77.5),(21.69,82.1),(21.97,83.3),(22.25,87.3),(22.53,89.6),(22.81,90.2),(23.09,91.0),(23.37,91.7),(23.65,89.0),(23.93,88.5),(24.21,86.7),(24.49,87.3),(24.77,83.3),(25.05,81.5),(25.33,78.1),(25.61,73.4),(25.89,68.8),(26.17,67.7),(26.45,63.6),(26.73,63.0),(27.01,59.6),(27.29,56.1),(27.57,53.8),(27.85,52.7),(28.13,49.2),(28.41,46.9),(28.69,45.2),(28.97,41.1),(29.25,38.8),(29.53,37.6),(29.81,35.9),(30.09,34.8),(30.37,33.0),(30.65,31.9),(30.93,30.7),(31.21,29.6),(31.49,29.0),(31.77,27.3),(32.05,27.8),(32.33,24.9),(32.61,23.8),(32.89,22.6),(33.17,23.8),(33.45,21.5),(33.73,20.3),(34.01,19.7),(34.29,18.0),(34.57,17.4),(34.85,16.3),(35.13,18.0),(35.41,15.7),(35.69,16.9),(35.97,15.7),(36.25,14.0),(36.53,13.4),(36.81,12.8),(37.09,12.2),(37.37,14.0),(37.65,11.1),(37.93,9.9),(38.21,11.7),(38.49,12.2),(38.77,14.5),(39.05,12.2),(39.33,13.4),(39.61,14.0),(39.89,15.1),(40.17,14.5),(40.45,15.7),(40.73,14.5),(41.01,15.1),(41.29,15.7),(41.57,14.5),(41.85,16.3),(42.13,15.7),(42.41,17.8),(42.69,16.3),(42.97,14.5),(43.25,15.7),(43.53,14.5),(43.81,15.1),(44.09,14.0),(44.37,15.1),(44.65,12.8),(44.93,16.3),(45.21,13.4),(45.49,12.2),(45.77,12.8),(46.05,11.1),(46.33,12.8),(46.61,11.7),(46.89,12.2),(47.17,11.1),(47.45,11.7),(47.73,11.1),(48.01,12.2),(48.29,11.1),(48.57,11.7),(48.85,11.1),(49.13,10.5),(49.41,11.7),(49.69,11.1),(49.97,10.5),(50.25,11.7),(50.53,11.1),(50.81,10.2),(51.09,11.7),(51.37,9.9),(51.65,11.7),(51.93,12.2),(52.2,11.1),(52.48,12.2),(52.76,11.1),(53.04,12.2),(53.32,14.0),(53.6,16.9),(53.88,14.0),(54.16,11.7),(54.44,12.2),(54.72,10.5),(55.0,11.7),(55.28,12.2),(55.56,11.1),(55.84,10.5),(56.12,11.7),(56.4,9.9),(56.68,11.1),(56.96,9.4),(57.24,10.5),(57.52,8.5),(57.8,10.5),(58.08,9.9),(58.36,11.1),(58.64,9.9),(58.92,11.1),(59.2,9.7),(59.48,11.1),(59.76,9.9),(60.04,11.1),(60.32,10.2),(60.6,11.3),(60.88,9.9),(61.16,11.1),(61.44,9.7),(61.72,11.1),(62.0,11.7),(62.28,11.1),(62.56,12.2),(62.84,11.1),(63.12,11.7),(63.4,9.9),(63.68,11.1),(63.96,9.7),(64.24,11.7),(64.52,9.4),(64.8,11.1),(65.08,12.2),(65.36,9.9),(65.64,11.1),(65.92,9.4),(66.2,11.7),(66.48,9.9),(66.76,12.2),(67.04,9.7),(67.32,11.1),(67.6,10.2),(67.88,11.8),(68.16,9.4),(68.44,11.1),(68.72,9.9),(69.0,11.3),(69.28,9.4),(69.56,11.7),(69.84,10.5),(69.98,7.0)]

# ---------------- styling ----------------
W, H = 911, 1450
FONT = "Liberation Sans, Arial, sans-serif"
AX = "#222222"
TICKC = "#333333"
MAGENTA, BLUE, RED, DARKRED = "#FF00FF", "#0000FF", "#FF0000", "#800000"

panels = [
    dict(box=(72, 17, 435, 299), xr=90, yr=110.5, series=[(SBA15, DARKRED, 2.2, "SBA-15", 58.1, 37.0, 16)],
         ylab=True, xt=(243, 335, 21.5), yt=(32, 166, 22)),
    dict(box=(516.7, 15, 903, 302.7), xr=90, yr=100, series=[(SBW4, MAGENTA, 1.3, "SBW4", 68.0, 81.2, 15),
                                                         (SBW2, BLUE, 1.3, "SBW2", 68.2, 47.3, 15),
                                                         (SBW1, RED, 1.3, "SBW1", 67.6, 9.0, 15)],
         yticks=[33.3, 66.7], xt=(713.7, 336.7, 20), yt=(498.3, 158.3, 21)),
    dict(box=(52.3, 369.3, 430, 669.3), xr=80, yr=100, series=[(SBTI3, MAGENTA, 1.1, "SBTi3", 60.6, 78.9, 14),
                                                          (SBTI2, BLUE, 1.1, "SBTi2", 59.4, 45.9, 14),
                                                          (SBTI1, RED, 1.1, "SBTi1", 59.5, 14.6, 14)],
         yticks=[33.3, 66.7], xt=(235, 703.3, 19.3), yt=(35, 520.8, 21)),
    dict(box=(519, 372.3, 899, 670), xr=90, yr=100, series=[(SBV3, MAGENTA, 1.1, "SBV3", 66.7, 73.1, 14),
                                                       (SBV2, BLUE, 1.1, "SBV2", 66.7, 43.4, 14),
                                                       (SBV1, RED, 1.1, "SBV1", 66.9, 14.0, 14)],
         yticks=[33.3, 66.7], xt=(706.7, 706.7, 19.5), yt=(501.7, 528.3, 21.5)),
    dict(box=(53.3, 744.3, 431.3, 1045.3), xr=90, yr=100, series=[(SBZR3, MAGENTA, 1.1, "SBZr3", 65.4, 74.5, 14),
                                                             (SBZR2, BLUE, 1.1, "SBZr2", 65.7, 49.7, 14),
                                                             (SBZR1, RED, 1.1, "SBZr1", 65.6, 15.1, 14)],
         yticks=[33.3, 66.7], xt=(249.5, 1079.3, 19.3), yt=(36, 905.8, 21)),
    dict(box=(516.3, 737.3, 902, 1036), xr=90, yr=100, series=[(SBMO2, BLUE, 1.1, "SBMo2", 66.1, 62.8, 14.5),
                                                          (SBMO1, RED, 1.1, "SBMo1", 66.9, 10.7, 14.5)],
         yticks=[50], xt=(704.7, 1070, 20), yt=(498.3, 877, 21.5)),
    dict(box=(40.3, 1117.3, 414, 1405.3), xr=80, yr=100, series=[(SBCR1, RED, 1.1, "SBCr1", 55.0, 25.3, 15)],
         yticks=[], xt=(218, 1438.3, 21.2), yt=(20.7, 1264.2, 22)),
    dict(box=(515, 1110, 896.3, 1398.7), xr=80, yr=100, series=[(SBCO1, RED, 1.1, "SBCo1", 54.9, 23.4, 15)],
         yticks=[], xt=(698.3, 1436.7, 21.5), yt=(493.3, 1256.3, 21.7)),
]

fig = go.Figure()
annotations = []
layout = dict(width=W, height=H, margin=dict(l=0, r=0, t=0, b=0), paper_bgcolor="white",
              plot_bgcolor="white", showlegend=False, font=dict(family=FONT, color=AX))

for i, p in enumerate(panels, start=1):
    xa = "x" if i == 1 else f"x{i}"
    ya = "y" if i == 1 else f"y{i}"
    l, t, r, b = p["box"]
    for pts, color, lw, name, lx, ly, fs in p["series"]:
        xs = [q[0] for q in pts]
        ys = [q[1] for q in pts]
        fig.add_trace(go.Scatter(x=xs, y=ys, mode="lines", line=dict(color=color, width=lw),
                                 xaxis=xa, yaxis=ya, name=name, hoverinfo="skip"))
        annotations.append(dict(x=lx, y=ly, xref=xa, yref=ya, text=f"<b>{name}</b>", showarrow=False,
                                font=dict(family=FONT, size=fs, color=color), xanchor="center", yanchor="middle"))
    xkey = "xaxis" if i == 1 else f"xaxis{i}"
    ykey = "yaxis" if i == 1 else f"yaxis{i}"
    layout[xkey] = dict(domain=[l / W, r / W], range=[0, p["xr"]], anchor=ya, tick0=0, dtick=10,
                        ticks="outside", ticklen=4, tickwidth=1, tickcolor=AX,
                        minor=dict(dtick=5, ticks="outside", ticklen=2.5, tickwidth=1, tickcolor=AX),
                        showline=True, mirror=True, linecolor=AX, linewidth=1.2,
                        showgrid=False, zeroline=False,
                        tickfont=dict(family=FONT, size=10.5 if i == 1 else 10, color=TICKC))
    if p.get("ylab"):
        layout[ykey] = dict(domain=[1 - b / H, 1 - t / H], range=[0, p["yr"]], anchor=xa, tick0=0, dtick=20,
                            ticks="outside", ticklen=4, tickwidth=1, tickcolor=AX,
                            minor=dict(dtick=10, ticks="outside", ticklen=2.5, tickwidth=1, tickcolor=AX),
                            showline=True, mirror=True, linecolor=AX, linewidth=1.2,
                            showgrid=False, zeroline=False,
                            tickfont=dict(family=FONT, size=10.5, color=TICKC))
    else:
        layout[ykey] = dict(domain=[1 - b / H, 1 - t / H], range=[0, p["yr"]], anchor=xa,
                            tickmode="array", tickvals=p["yticks"], showticklabels=False,
                            ticks="inside" if p["yticks"] else "", ticklen=3, tickwidth=1, tickcolor=AX,
                            showline=True, mirror="ticks", linecolor=AX, linewidth=1.2,
                            showgrid=False, zeroline=False)
    tx, ty, tfs = p["xt"]
    annotations.append(dict(x=tx / W, y=1 - ty / H, xref="paper", yref="paper", text="Twotheta (degrees)",
                            showarrow=False, xanchor="center", yanchor="middle",
                            font=dict(family=FONT, size=tfs, color="#111111")))
    yx, yy, yfs = p["yt"]
    annotations.append(dict(x=yx / W, y=1 - yy / H, xref="paper", yref="paper", text="Intensity (%)",
                            showarrow=False, xanchor="center", yanchor="middle", textangle=-90,
                            font=dict(family=FONT, size=yfs, color="#111111")))

layout["annotations"] = annotations
fig.update_layout(**layout)
fig.write_html("out.html")
